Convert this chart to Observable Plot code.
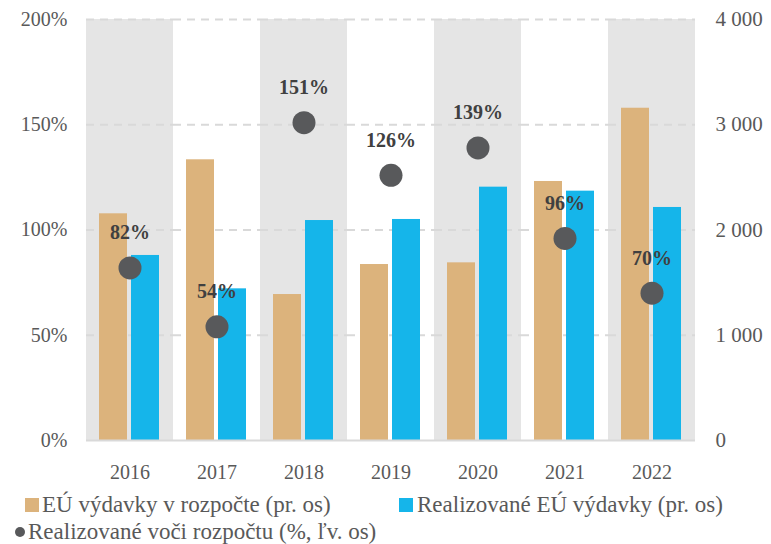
<!DOCTYPE html>
<html><head><meta charset="utf-8">
<script src="https://cdn.jsdelivr.net/npm/d3@7"></script>
<script src="https://cdn.jsdelivr.net/npm/@observablehq/plot@0.6"></script>
<style>
body{margin:0;background:#fff;}
#wrap{position:relative;width:771px;height:544px;overflow:hidden;font-family:"Liberation Serif",serif;}
.lg{position:absolute;font-size:23px;line-height:26px;color:#595959;white-space:nowrap;}
.sw{position:absolute;}
</style>
</head><body>
<div id="wrap"></div>
<script>
const years = ["2016","2017","2018","2019","2020","2021","2022"];
const budget = [2154, 2667, 1387, 1672, 1688, 2461, 3157];
const realized = [1758, 1441, 2090, 2100, 2407, 2369, 2214];
const ratio = [82, 54, 151, 126, 139, 96, 70];
const seriesNames = ["EÚ výdavky v rozpočte (pr. os)", "Realizované EÚ výdavky (pr. os)", "Realizované voči rozpočtu (%, ľv. os)"];
const colors = ["#DCB37C", "#15B5EA", "#58595B"];
const leftTicks = [0, 50, 100, 150, 200];
const rightTicks = [0, 1000, 2000, 3000, 4000];

const pctToY = p => p * 20; // 200% ↔ 4 000
const fmtThousands = d => String(d).replace(/\B(?=(\d{3})+(?!\d))/g, "\u00a0");

const bars = years.flatMap((y, i) => [
  {year: y, s: seriesNames[0], v: budget[i]},
  {year: y, s: seriesNames[1], v: realized[i]}
]);
const pts = years.map((y, i) => ({year: y, p: ratio[i], v: pctToY(ratio[i])}));
const shaded = years.filter((y, i) => i % 2 === 0).map(y => ({year: y}));

const chart = Plot.plot({
  width: 771, height: 490,
  marginTop: 19, marginBottom: 50, marginLeft: 83, marginRight: 74,
  style: {fontFamily: "'Liberation Serif', serif", background: "#fff"},
  fx: {domain: years, padding: 0, label: null},
  x: {domain: seriesNames.slice(0, 2), paddingInner: 0.12, paddingOuter: 0.39, axis: null},
  y: {domain: [0, 4000], axis: null},
  color: {domain: seriesNames.slice(0, 2), range: colors.slice(0, 2)},
  marks: [
    Plot.barY(shaded, {fx: "year", y1: 0, y2: 4000, fill: "#e5e5e5"}),
    Plot.ruleY(rightTicks.slice(1), {stroke: "#d9d9d9", strokeWidth: 2, strokeDasharray: "8,6"}),
    Plot.barY(bars, {fx: "year", x: "s", y: "v", fill: "s"}),
    Plot.ruleY([0], {stroke: "#d9d9d9", strokeWidth: 2}),
    Plot.dot(pts, {fx: "year", y: "v", r: 11.5, fill: colors[2], stroke: "none"}),
    Plot.text(pts, {fx: "year", y: "v", text: d => d.p + "%", dy: -35, fontWeight: "bold", fontSize: 20, fill: "#404040"}),
    Plot.axisY({anchor: "left", ticks: leftTicks.map(pctToY), tickFormat: d => (d / 20) + "%", tickSize: 0, tickPadding: 19, fontSize: 20, fill: "#595959", label: null}),
    Plot.axisY({anchor: "right", ticks: rightTicks, tickFormat: fmtThousands, tickSize: 0, tickPadding: 20, fontSize: 21, fill: "#595959", label: null}),
    Plot.axisFx({anchor: "bottom", tickSize: 0, tickPadding: 24, fontSize: 20, fill: "#595959", label: null})
  ]
});
const wrap = document.getElementById("wrap");
wrap.appendChild(chart);

function addSwatch(left, top, w, h, color, round) {
  const s = document.createElement("div");
  s.className = "sw";
  Object.assign(s.style, {left: left + "px", top: top + "px", width: w + "px", height: h + "px", background: color, borderRadius: round ? "50%" : "0"});
  wrap.appendChild(s);
}
function addText(left, top, txt) {
  const t = document.createElement("div");
  t.className = "lg";
  t.style.left = left + "px"; t.style.top = top + "px";
  t.textContent = txt;
  wrap.appendChild(t);
}
addSwatch(25, 498, 14, 14, colors[0], false);
addText(42, 492, seriesNames[0]);
addSwatch(399, 498, 14, 14, colors[1], false);
addText(417, 492, seriesNames[1]);
addSwatch(15, 527, 10, 10, colors[2], true);
addText(28, 519, seriesNames[2]);
</script>
</body></html>
